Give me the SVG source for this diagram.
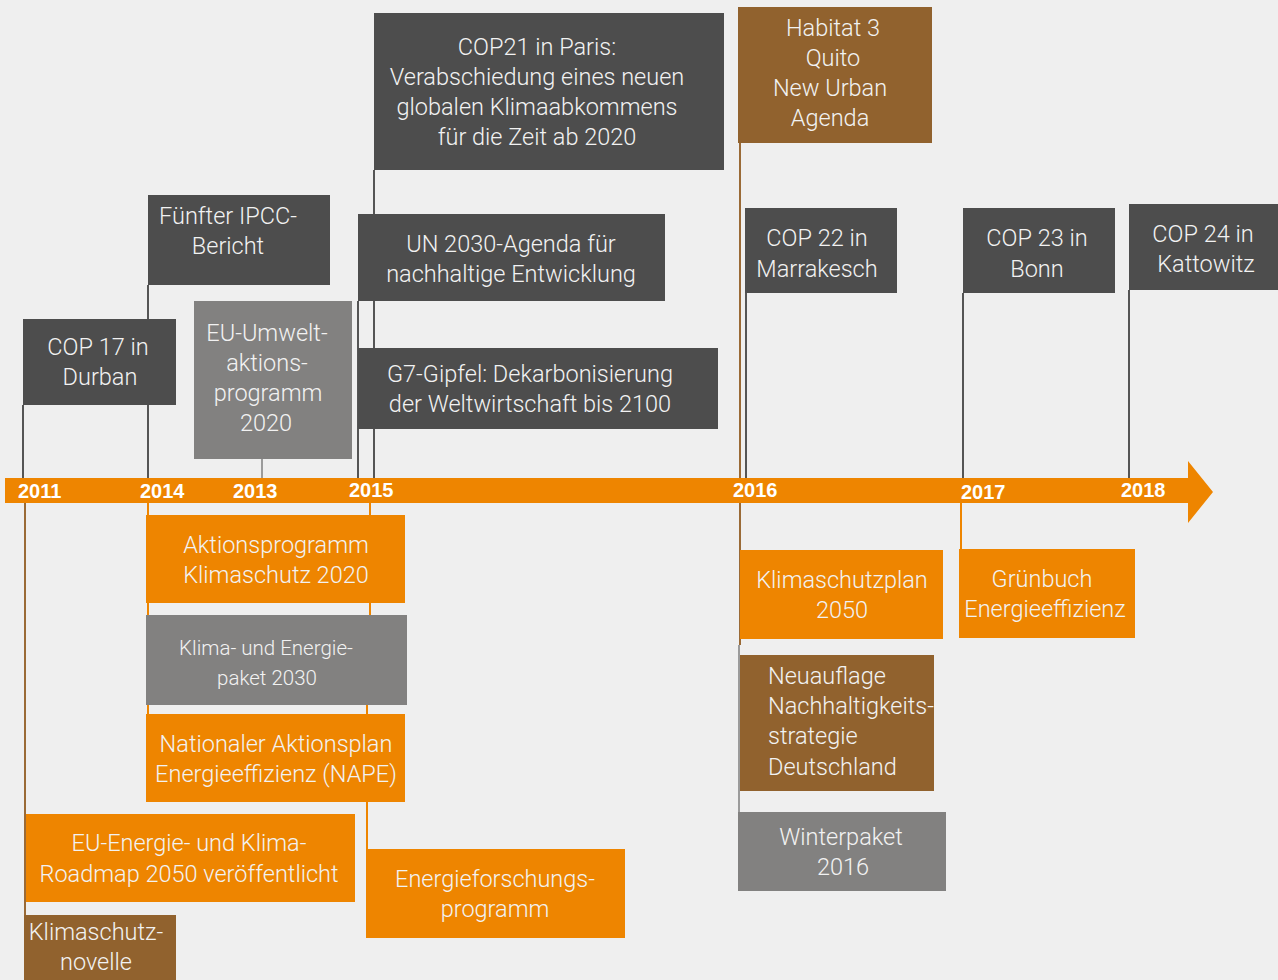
<svg xmlns="http://www.w3.org/2000/svg" width="1278" height="980" viewBox="0 0 1278 980">
  <style>
    .dark { fill: #4d4d4d; }
    .grey { fill: #828180; }
    .brown { fill: #91622e; }
    .orange { fill: #ee8500; }
    .lbl { font-family: Roboto, "Liberation Sans", sans-serif; font-weight: 300; font-size: 23.5px; fill: #f2f2f2; text-anchor: middle; }
    .small { font-size: 20.5px; }
    .left { text-anchor: start; }
    .year { font-family: "Liberation Sans", Arial, sans-serif; font-weight: bold; font-size: 20px; fill: #ffffff; }
    .stem { fill: none; stroke-width: 2; }
    .s-dark { stroke: #555555; }
    .s-light { stroke: #9b9b9b; }
    .s-brown { stroke: #9a6a36; }
    .s-orange { stroke: #ee8500; }
  </style>

  <rect x="0" y="0" width="1278" height="980" fill="#efefef"/>

  <!-- stems linking each event to the timeline -->
  <g id="connectors">
    <line class="stem s-dark" x1="23" y1="405" x2="23" y2="478"/>
    <line class="stem s-dark" x1="148" y1="285" x2="148" y2="478"/>
    <line class="stem s-light" x1="262" y1="459" x2="262" y2="478"/>
    <line class="stem s-dark" x1="358" y1="301" x2="358" y2="478"/>
    <line class="stem s-dark" x1="374" y1="170" x2="374" y2="478"/>
    <line class="stem s-brown" x1="740" y1="142" x2="740" y2="478"/>
    <line class="stem s-dark" x1="746" y1="293" x2="746" y2="478"/>
    <line class="stem s-dark" x1="963" y1="293" x2="963" y2="478"/>
    <line class="stem s-dark" x1="1129" y1="290" x2="1129" y2="478"/>

    <line class="stem s-brown" x1="25" y1="503" x2="25" y2="915"/>
    <line class="stem s-orange" x1="148" y1="503" x2="148" y2="714"/>
    <line class="stem s-orange" x1="370" y1="503" x2="370" y2="615"/>
    <line class="stem s-orange" x1="367" y1="705" x2="367" y2="849"/>
    <line class="stem s-brown" x1="740" y1="503" x2="740" y2="645"/>
    <line class="stem s-light" x1="739" y1="645" x2="739" y2="812"/>
    <line class="stem s-orange" x1="961" y1="503" x2="961" y2="549"/>
  </g>

  <!-- timeline arrow -->
  <g id="timeline">
    <polygon class="orange" points="5,478 1188,478 1188,461 1213,492 1188,523 1188,503 5,503"/>
    <text class="year" x="18" y="498">2011</text>
    <text class="year" x="140" y="498">2014</text>
    <text class="year" x="233" y="498">2013</text>
    <text class="year" x="349" y="497">2015</text>
    <text class="year" x="733" y="497">2016</text>
    <text class="year" x="961" y="499">2017</text>
    <text class="year" x="1121" y="497">2018</text>
  </g>

  <!-- events above the timeline -->
  <g id="cop17">
    <rect class="dark" x="23" y="319" width="153" height="86"/>
    <text class="lbl" x="98" y="355">COP 17 in</text>
    <text class="lbl" x="100" y="385">Durban</text>
  </g>
  <g id="ipcc">
    <rect class="dark" x="148" y="195" width="182" height="90"/>
    <text class="lbl" x="228" y="224">Fünfter IPCC-</text>
    <text class="lbl" x="228" y="254">Bericht</text>
  </g>
  <g id="eu-umwelt">
    <rect class="grey" x="194" y="301" width="158" height="158"/>
    <text class="lbl" x="267" y="341">EU-Umwelt-</text>
    <text class="lbl" x="267" y="371">aktions-</text>
    <text class="lbl" x="268" y="401">programm</text>
    <text class="lbl" x="266" y="431">2020</text>
  </g>
  <g id="cop21">
    <rect class="dark" x="374" y="13" width="350" height="157"/>
    <text class="lbl" x="537" y="55">COP21 in Paris:</text>
    <text class="lbl" x="537" y="85">Verabschiedung eines neuen</text>
    <text class="lbl" x="537" y="115">globalen Klimaabkommens</text>
    <text class="lbl" x="537" y="145">für die Zeit ab 2020</text>
  </g>
  <g id="un2030">
    <rect class="dark" x="358" y="214" width="307" height="87"/>
    <text class="lbl" x="511" y="252">UN 2030-Agenda für</text>
    <text class="lbl" x="511" y="282">nachhaltige Entwicklung</text>
  </g>
  <g id="g7">
    <rect class="dark" x="358" y="348" width="360" height="81"/>
    <text class="lbl" x="530" y="382">G7-Gipfel: Dekarbonisierung</text>
    <text class="lbl" x="530" y="412">der Weltwirtschaft bis 2100</text>
  </g>
  <g id="habitat3">
    <rect class="brown" x="738" y="7" width="194" height="136"/>
    <text class="lbl" x="833" y="36">Habitat 3</text>
    <text class="lbl" x="833" y="66">Quito</text>
    <text class="lbl" x="830" y="96">New Urban</text>
    <text class="lbl" x="830" y="126">Agenda</text>
  </g>
  <g id="cop22">
    <rect class="dark" x="745" y="208" width="152" height="85"/>
    <text class="lbl" x="817" y="246">COP 22 in</text>
    <text class="lbl" x="817" y="277">Marrakesch</text>
  </g>
  <g id="cop23">
    <rect class="dark" x="963" y="208" width="152" height="85"/>
    <text class="lbl" x="1037" y="246">COP 23 in</text>
    <text class="lbl" x="1037" y="277">Bonn</text>
  </g>
  <g id="cop24">
    <rect class="dark" x="1129" y="204" width="149" height="86"/>
    <text class="lbl" x="1203" y="242">COP 24 in</text>
    <text class="lbl" x="1206" y="272">Kattowitz</text>
  </g>

  <!-- events below the timeline -->
  <g id="aktionsprogramm">
    <rect class="orange" x="146" y="515" width="259" height="88"/>
    <text class="lbl" x="276" y="553">Aktionsprogramm</text>
    <text class="lbl" x="276" y="583">Klimaschutz 2020</text>
  </g>
  <g id="klima-energie">
    <rect class="grey" x="146" y="615" width="261" height="90"/>
    <text class="lbl small" x="266" y="655">Klima- und Energie-</text>
    <text class="lbl small" x="267" y="685">paket 2030</text>
  </g>
  <g id="nape">
    <rect class="orange" x="146" y="714" width="259" height="88"/>
    <text class="lbl" x="276" y="752">Nationaler Aktionsplan</text>
    <text class="lbl" x="276" y="782">Energieeffizienz (NAPE)</text>
  </g>
  <g id="eu-roadmap">
    <rect class="orange" x="26" y="814" width="329" height="88"/>
    <text class="lbl" x="189" y="851">EU-Energie- und Klima-</text>
    <text class="lbl" x="189" y="882">Roadmap 2050 veröffentlicht</text>
  </g>
  <g id="klimaschutznovelle">
    <rect class="brown" x="24" y="915" width="152" height="65"/>
    <text class="lbl" x="96" y="940">Klimaschutz-</text>
    <text class="lbl" x="96" y="970">novelle</text>
  </g>
  <g id="energieforschung">
    <rect class="orange" x="366" y="849" width="259" height="89"/>
    <text class="lbl" x="495" y="887">Energieforschungs-</text>
    <text class="lbl" x="495" y="917">programm</text>
  </g>
  <g id="klimaschutzplan">
    <rect class="orange" x="740" y="550" width="203" height="89"/>
    <text class="lbl" x="842" y="588">Klimaschutzplan</text>
    <text class="lbl" x="842" y="618">2050</text>
  </g>
  <g id="nachhaltigkeitsstrategie">
    <rect class="brown" x="740" y="655" width="194" height="136"/>
    <text class="lbl left" x="768" y="684">Neuauflage</text>
    <text class="lbl left" x="768" y="714">Nachhaltigkeits-</text>
    <text class="lbl left" x="768" y="744">strategie</text>
    <text class="lbl left" x="768" y="775">Deutschland</text>
  </g>
  <g id="winterpaket">
    <rect class="grey" x="738" y="812" width="208" height="79"/>
    <text class="lbl" x="841" y="845">Winterpaket</text>
    <text class="lbl" x="843" y="875">2016</text>
  </g>
  <g id="gruenbuch">
    <rect class="orange" x="959" y="549" width="176" height="89"/>
    <text class="lbl" x="1042" y="587">Grünbuch</text>
    <text class="lbl" x="1045" y="617">Energieeffizienz</text>
  </g>
</svg>
